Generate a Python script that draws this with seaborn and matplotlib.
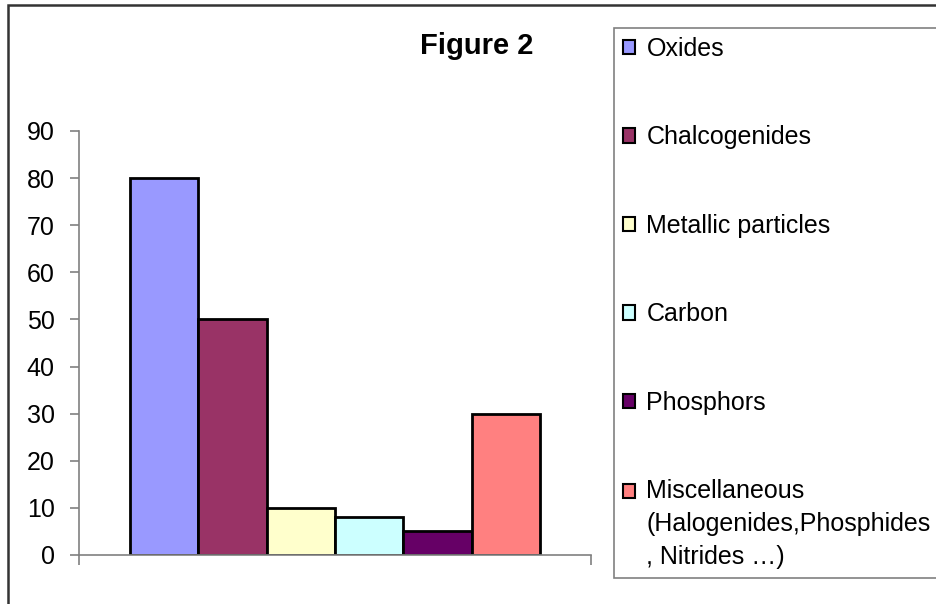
import pandas as pd
import seaborn as sns
import matplotlib.pyplot as plt
from matplotlib.patches import Patch, Rectangle
from matplotlib.legend_handler import HandlerPatch

sns.set_style("white")
plt.rcParams["font.family"] = ["Liberation Sans", "DejaVu Sans"]
plt.rcParams["text.color"] = "black"
plt.rcParams["xtick.labelcolor"] = "black"
plt.rcParams["ytick.labelcolor"] = "black"

# 数据
categories = [
    "Oxides", "Chalcogenides", "Metallic particles", "Carbon", "Phosphors",
    "Miscellaneous\n(Halogenides,Phosphides\n, Nitrides …)",
]
values = [80, 50, 10, 8, 5, 30]
colors = ["#9999FF", "#993366", "#FFFFCC", "#CCFFFF", "#660066", "#FF8080"]

df = pd.DataFrame({"group": [""] * len(categories),
                   "category": categories,
                   "value": values})

W, H = 936, 604
fig = plt.figure(figsize=(W / 100, H / 100), dpi=100)
ax = fig.add_axes([79 / W, 1 - 555 / H, 512 / W, 424 / H])

sns.barplot(data=df, x="group", y="value", hue="category",
            hue_order=categories, palette=colors, saturation=1,
            edgecolor="black", linewidth=2, legend=False, ax=ax)

# 坐标轴样式
ax.set_xlim(-0.5, 0.5)
ax.set_ylim(0, 90)
ax.set_yticks(range(0, 91, 10))
ax.set_xticks([-0.5, 0.5])
ax.set_xticklabels(["", ""])
ax.set_xlabel("")
ax.set_ylabel("")
for s in ["top", "right"]:
    ax.spines[s].set_visible(False)
for s in ["left", "bottom"]:
    ax.spines[s].set_color("#808080")
    ax.spines[s].set_linewidth(1.2)
ax.tick_params(axis="y", direction="out", length=6.5, width=1.2,
               color="#808080", labelsize=18, pad=11, left=True)
ax.tick_params(axis="x", direction="out", length=7, width=1.2,
               color="#808080", bottom=True)

# 标题
fig.text(477 / W, 1 - 46 / H, "Figure 2", ha="center", va="center",
         fontsize=21, fontweight="bold", color="black")

# 图例（多行标签的色块对齐第一行）
LINE_PT = 24.5


def first_line_patch(legend, orig_handle, xdescent, ydescent, width, height, fontsize):
    return Rectangle((-xdescent, -ydescent + LINE_PT), width, height)


handles = [Patch(facecolor=c, edgecolor="black", linewidth=1.5) for c in colors]
leg = fig.legend(handles, categories, loc="upper left",
                 bbox_to_anchor=(614 / W, 1 - 28 / H),
                 bbox_transform=fig.transFigure, borderaxespad=0,
                 frameon=True, fancybox=False, framealpha=1,
                 edgecolor="#808080", fontsize=18, labelspacing=2.58,
                 handlelength=0.5, handleheight=0.5, handletextpad=0.45,
                 borderpad=0.35,
                 handler_map={handles[-1]: HandlerPatch(patch_func=first_line_patch)})
leg.get_frame().set_linewidth(1.2)
for t in leg.get_texts():
    t.set_linespacing(1.47)
    t.set_color("black")

# 外框
fig.patches.append(Rectangle((8 / W, -0.2), 2, 1 - 5 / H + 0.2,
                             transform=fig.transFigure, fill=False,
                             edgecolor="#333333", linewidth=1.8))

fig.savefig("out.png", dpi=100)
